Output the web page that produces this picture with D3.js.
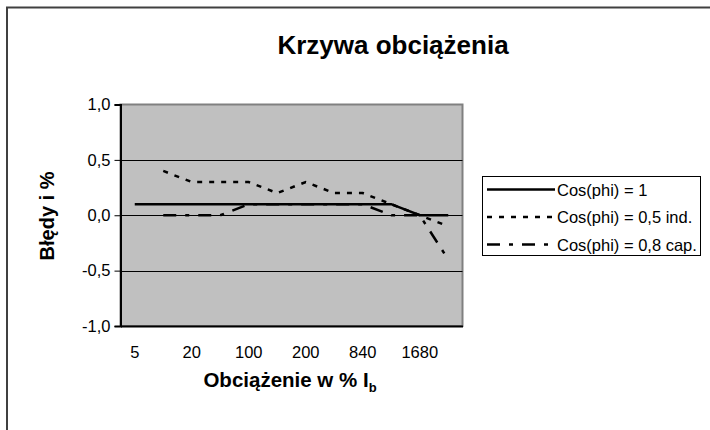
<!DOCTYPE html>
<html>
<head>
<meta charset="utf-8">
<script src="https://cdnjs.cloudflare.com/ajax/libs/d3/7.8.5/d3.min.js"></script>
<style>
  body { margin: 0; background: #fff; }
  text { font-family: "Liberation Sans", Arial, sans-serif; fill: #000; }
</style>
</head>
<body>
<div id="chart"></div>
<script>
var width = 710;
var height = 430;

// categories (only every second one has a visible label in the original)
var tickLabels = ["5", "", "20", "", "100", "", "200", "", "840", "", "1680", ""];
var yTicks = [-1, -0.5, 0, 0.5, 1];

var seriesNames = ["Cos(phi) = 1", "Cos(phi) = 0,5 ind.", "Cos(phi) = 0,8 cap."];
var cos1   = [0.1, 0.1, 0.1, 0.1, 0.1, 0.1, 0.1, 0.1, 0.1, 0.1, 0.0, 0.0];
var cos05  = [null, 0.4, 0.3, 0.3, 0.3, 0.2, 0.3, 0.2, 0.2, 0.1, 0.0, -0.1];
var cos08  = [null, 0.0, 0.0, 0.0, 0.1, 0.1, 0.1, 0.1, 0.1, 0.0, 0.0, -0.4];

var dashes = [null, "5,7", "13,9,4,9"];

var svg = d3.select("#chart")
    .append("svg")
    .attr("width", width)
    .attr("height", height);

// outer chart border
svg.append("rect")
    .attr("x", 7).attr("y", 7.5)
    .attr("width", 740).attr("height", 460)
    .attr("fill", "#fff")
    .attr("stroke", "#404040")
    .attr("stroke-width", 2);

var plot = { left: 120.5, right: 462.5, top: 104.5, bottom: 326 };

var xScale = d3.scaleBand()
    .domain(d3.range(tickLabels.length))
    .range([plot.left, plot.right]);

var yScale = d3.scaleLinear()
    .domain([-1, 1])
    .range([plot.bottom, plot.top]);

// plot area
svg.append("rect")
    .attr("x", plot.left).attr("y", plot.top)
    .attr("width", plot.right - plot.left)
    .attr("height", plot.bottom - plot.top)
    .attr("fill", "#c0c0c0")
    .attr("stroke", "#808080")
    .attr("stroke-width", 2);

// gridlines
svg.selectAll(".grid")
    .data([-0.5, 0, 0.5])
    .enter()
    .append("line")
    .attr("x1", plot.left).attr("x2", plot.right)
    .attr("y1", function(d) { return Math.round(yScale(d)) + 0.5; })
    .attr("y2", function(d) { return Math.round(yScale(d)) + 0.5; })
    .attr("stroke", "#000")
    .attr("stroke-width", 1);

// y axis
var yAxis = d3.axisLeft(yScale)
    .tickValues(yTicks)
    .tickSize(6)
    .tickPadding(4)
    .tickFormat(function(d) { return d3.format(".1f")(d).replace(".", ",").replace("−", "-"); });

var gy = svg.append("g")
    .attr("transform", "translate(" + plot.left + ",0)")
    .call(yAxis);
gy.select(".domain").attr("stroke", "#000").attr("stroke-width", 2);
gy.selectAll(".tick line").attr("stroke", "#000").attr("stroke-width", 1);
gy.selectAll(".tick text")
    .style("font-size", "16.5px")
    .style("font-family", "'Liberation Sans', Arial, sans-serif");

// x axis
var xAxis = d3.axisBottom(xScale)
    .tickSize(0)
    .tickPadding(20)
    .tickFormat(function(i) { return tickLabels[i]; });

var gx = svg.append("g")
    .attr("transform", "translate(0," + plot.bottom + ")")
    .call(xAxis);
gx.select(".domain").attr("stroke", "#000").attr("stroke-width", 2);
gx.selectAll(".tick text")
    .style("font-size", "16.5px")
    .style("font-family", "'Liberation Sans', Arial, sans-serif");

// series lines
var line = d3.line()
    .defined(function(d) { return d != null; })
    .x(function(d, i) { return xScale(i) + xScale.bandwidth() / 2; })
    .y(function(d) { return yScale(d); });

[cos1, cos05, cos08].forEach(function(s, k) {
    svg.append("path")
        .datum(s)
        .attr("d", line)
        .attr("fill", "none")
        .attr("stroke", "#000")
        .attr("stroke-width", 2.5)
        .attr("stroke-dasharray", dashes[k]);
});

// title
svg.append("text")
    .attr("x", 393).attr("y", 54)
    .attr("text-anchor", "middle")
    .style("font-size", "26px")
    .style("font-weight", "bold")
    .text("Krzywa obciążenia");

// axis titles
var xt = svg.append("text")
    .attr("x", 290).attr("y", 387)
    .attr("text-anchor", "middle")
    .style("font-size", "20.5px")
    .style("font-weight", "bold");
xt.append("tspan").text("Obciążenie w % I");
xt.append("tspan").attr("dy", 5).style("font-size", "13px").text("b");

svg.append("text")
    .attr("transform", "translate(53.5,216) rotate(-90)")
    .attr("text-anchor", "middle")
    .style("font-size", "20px")
    .style("font-weight", "bold")
    .text("Błędy i %");

// legend
var legend = svg.append("g");
legend.append("rect")
    .attr("x", 482.5).attr("y", 176.5)
    .attr("width", 218).attr("height", 79)
    .attr("fill", "#fff")
    .attr("stroke", "#000")
    .attr("stroke-width", 1);

var rows = legend.selectAll(".row")
    .data(seriesNames)
    .enter()
    .append("g")
    .attr("transform", function(d, i) { return "translate(0," + (189.5 + i * 27.5) + ")"; });

rows.append("line")
    .attr("x1", 487).attr("x2", 555)
    .attr("stroke", "#000")
    .attr("stroke-width", 2.5)
    .attr("stroke-dasharray", function(d, i) { return dashes[i]; });

rows.append("text")
    .attr("x", 557).attr("y", 6)
    .style("font-size", "16.5px")
    .text(function(d) { return d; });
</script>
</body>
</html>
